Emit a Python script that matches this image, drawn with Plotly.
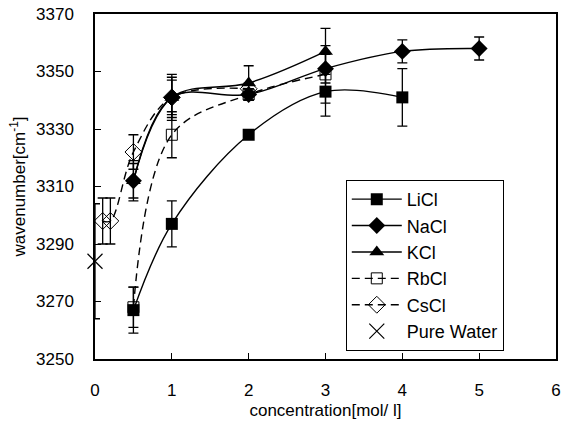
import plotly.graph_objects as go

lic_x = [0.5, 1, 2, 3, 4]
lic_y = [3267, 3297, 3328, 3343, 3341]
lic_e = [8, 8, 0, 8.5, 10]

nac_x = [0.5, 1, 2, 3, 4, 5]
nac_y = [3312, 3341, 3342, 3351, 3357, 3358]
nac_e = [6, 7, 2, 5, 4, 4]

kcl_x = [0.5, 1, 2, 3]
kcl_y = [3312, 3341, 3346, 3357]
kcl_e = [7, 8, 6, 8]

rbc_x = [0.5, 1, 2, 3]
rbc_y = [3268, 3328, 3342, 3349]
rbc_e = [7, 8, 2, 10]

csc_x = [0.1, 0.2, 0.5, 1, 2]
csc_y = [3298, 3298, 3322, 3341, 3344]
csc_e = [8, 8, 6, 6, 2]

pw_x = [0]
pw_y = [3284]
pw_e = [20]

FONT = "Liberation Sans, Arial, sans-serif"

def eb(arr):
    return dict(type="data", array=arr, visible=True, color="black",
                thickness=1.3, width=5)

fig = go.Figure()
fig.add_trace(go.Scatter(x=lic_x, y=lic_y, name="LiCl", mode="lines+markers",
    line=dict(color="black", width=1.4, shape="spline", smoothing=1),
    marker=dict(symbol="square", size=12, color="black"), error_y=eb(lic_e)))
fig.add_trace(go.Scatter(x=nac_x, y=nac_y, name="NaCl", mode="lines+markers",
    line=dict(color="black", width=1.4, shape="spline", smoothing=1),
    marker=dict(symbol="diamond", size=13, color="black"), error_y=eb(nac_e)))
fig.add_trace(go.Scatter(x=kcl_x, y=kcl_y, name="KCl", mode="lines+markers",
    line=dict(color="black", width=1.4, shape="spline", smoothing=1),
    marker=dict(symbol="triangle-up", size=13, color="black"), error_y=eb(kcl_e)))
fig.add_trace(go.Scatter(x=rbc_x, y=rbc_y, name="RbCl", mode="lines+markers",
    line=dict(color="black", width=1.4, shape="spline", smoothing=1, dash="8px,5px"),
    marker=dict(symbol="square-open", size=11, color="black", line=dict(width=1)),
    error_y=eb(rbc_e)))
fig.add_trace(go.Scatter(x=csc_x, y=csc_y, name="CsCl", mode="lines+markers",
    line=dict(color="black", width=1.4, shape="spline", smoothing=1, dash="8px,5px"),
    marker=dict(symbol="diamond-open", size=13, color="black", line=dict(width=1)),
    error_y=eb(csc_e)))
fig.add_trace(go.Scatter(x=pw_x, y=pw_y, name="Pure Water", mode="markers",
    marker=dict(symbol="x-thin-open", size=15, color="black", line=dict(width=1.2, color="black")),
    error_y=eb(pw_e)))
fig.update_traces(cliponaxis=False)

fig.update_layout(
    width=561, height=426,
    margin=dict(l=95, r=5, t=14, b=67, autoexpand=False),
    paper_bgcolor="white", plot_bgcolor="white",
    font=dict(family=FONT, size=17, color="black"),
    showlegend=True,
    legend=dict(x=0.544, y=0.519, xanchor="left", yanchor="top",
                bordercolor="black", borderwidth=1, bgcolor="white",
                font=dict(size=18), itemwidth=50, tracegroupgap=0),
)
fig.update_xaxes(range=[0, 6], dtick=1, tick0=0, showgrid=False, zeroline=False,
                 showline=True, linecolor="black", linewidth=1.5, mirror=True,
                 ticks="inside", ticklen=6, tickcolor="black", automargin=False,
                 tickfont=dict(size=17), ticklabelstandoff=15,
                 title=dict(text="concentration[mol/ l]", font=dict(size=17), standoff=5))
fig.update_yaxes(range=[3250, 3370], dtick=20, tick0=3250, showgrid=False, zeroline=False,
                 showline=True, linecolor="black", linewidth=1.5, mirror=True,
                 ticks="inside", ticklen=6, tickcolor="black", automargin=False,
                 tickfont=dict(size=17), ticklabelstandoff=16,
                 title=dict(text="wavenumber[cm<sup>-1</sup>]", font=dict(size=17), standoff=6))

fig.write_html("out.html", config={"displayModeBar": False},
               post_script="document.body.style.margin='0';document.body.style.overflow='hidden';")
